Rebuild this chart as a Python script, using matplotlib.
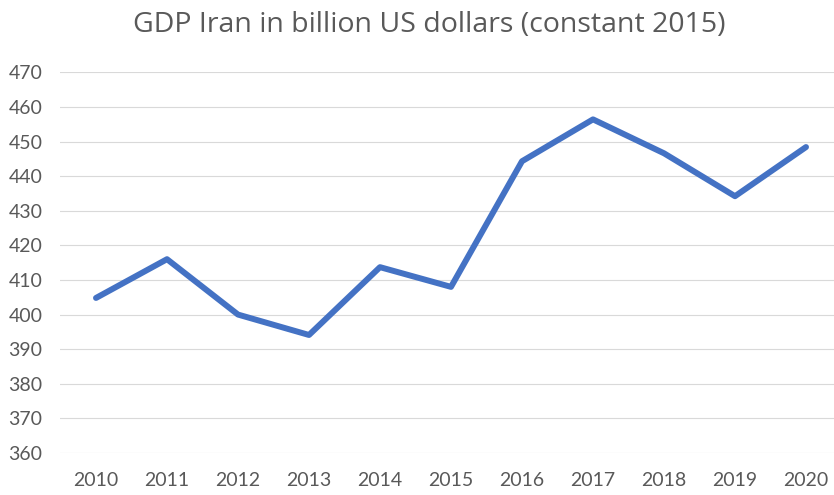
import matplotlib
matplotlib.use("Agg")
import matplotlib.pyplot as plt

# GDP Iran, billion US dollars (constant 2015)
years = ["2010", "2011", "2012", "2013", "2014", "2015", "2016", "2017", "2018", "2019", "2020"]
gdp = [404.8, 416.0, 400.0, 394.1, 413.7, 408.0, 444.3, 456.4, 446.6, 434.2, 448.4]
y_ticks = [360, 370, 380, 390, 400, 410, 420, 430, 440, 450, 460, 470]

TXT = "#595959"
BLUE = "#4472C4"
GRID = "#D9D9D9"

plt.rcParams["font.family"] = ["Lato", "DejaVu Sans"]

W, H = 834, 495
fig = plt.figure(figsize=(W / 100, H / 100), dpi=100)
fig.patch.set_facecolor("white")
# axes: left edge at px 60.5, top at 72.3, bottom at 453, runs off the right side
ax = fig.add_axes([60.5 / W, (H - 453) / H, (W - 60.5) / W, (453 - 72.3) / H])

x = list(range(len(years)))
ax.plot(x, gdp, color=BLUE, lw=4.3, solid_capstyle="round", solid_joinstyle="round", zorder=3)

ax.set_xlim(-0.5, (W - 96) / 71)
ax.set_ylim(360, 470)
ax.set_yticks(y_ticks)
ax.set_xticks(x, years)
ax.grid(axis="y", color=GRID, lw=0.8)
ax.set_axisbelow(True)
for s in ax.spines.values():
    s.set_visible(False)
ax.tick_params(axis="both", length=0, colors=TXT, labelsize=14)
ax.tick_params(axis="y", pad=13)
ax.tick_params(axis="x", pad=14)

fig.text(429 / W, 1 - 32 / H, "GDP Iran in billion US dollars (constant 2015)",
         ha="center", va="baseline", fontsize=20.5, color=TXT, family=["Open Sans", "DejaVu Sans"])

fig.savefig("out.png", dpi=100, facecolor="white")
